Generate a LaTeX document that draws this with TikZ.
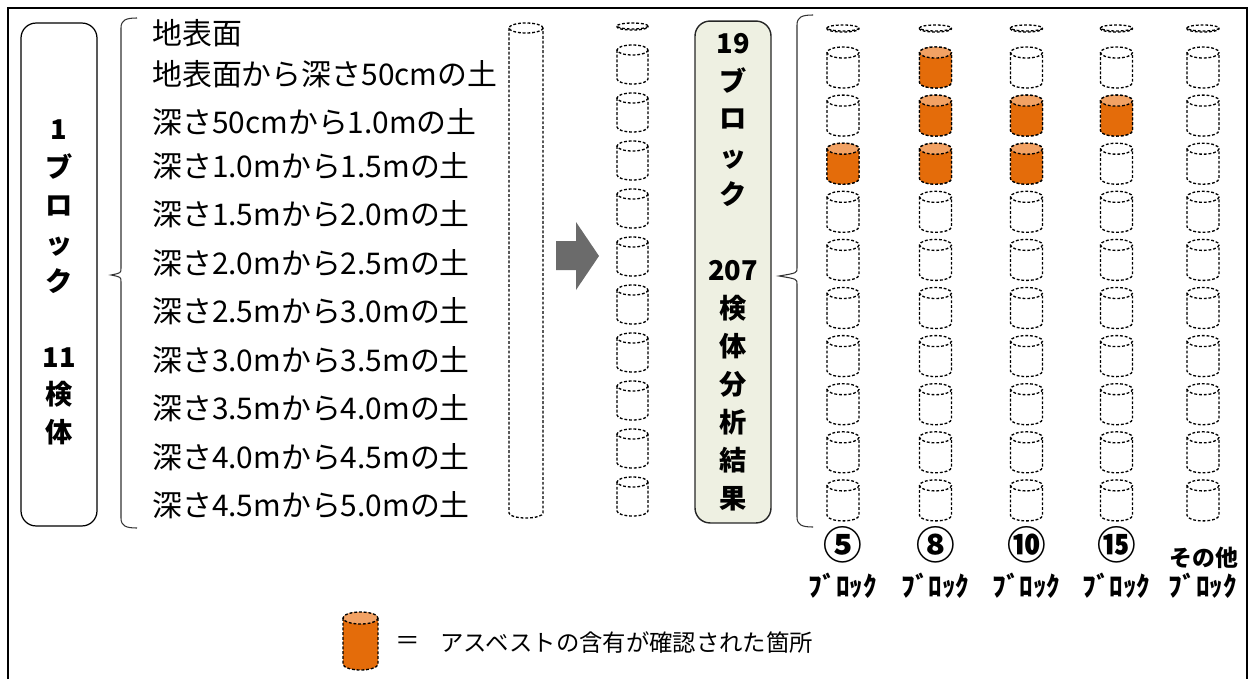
\documentclass[tikz,border=0pt]{standalone}
\usepackage{fontspec}
\setmainfont{Noto Sans CJK JP}
\usepackage{tikz}
\usetikzlibrary{positioning}

\definecolor{arancio}{HTML}{E46C0A}
\definecolor{arancioChiaro}{HTML}{F2A264}
\definecolor{verdino}{HTML}{EEF0E2}

\begin{document}
\begin{tikzpicture}[x=0.02cm, y=-0.02cm, >=latex] % unita' in pixel, y verso il basso
    % Stili
    \tikzset{
        tratteggio/.style={draw=black, line width=0.75pt, dash pattern=on 1.6pt off 1.1pt},
        scatola/.style={draw=black, line width=0.7pt, rounded corners=0.3cm, fill=white,
            minimum width=1.52cm, minimum height=10.06cm, inner sep=0pt},
        risultato/.style={draw=black!85, line width=0.8pt, rounded corners=0.3cm, fill=verdino,
            minimum width=1.52cm, minimum height=10.04cm, inner sep=0pt, align=center,
            font=\bfseries\fontsize{15.5}{21.6}\selectfont},
        verticale/.style={align=center, inner sep=0pt, font=\bfseries\fontsize{15.5}{21.6}\selectfont},
        voce/.style={anchor=west, inner sep=0pt, font=\fontsize{17}{20}\selectfont},
        numero/.style={inner sep=0pt, font=\bfseries\fontsize{22}{24}\selectfont},
        etichetta/.style={inner sep=0pt, font=\bfseries\fontsize{15.5}{17}\selectfont},
        graffa/.style={draw=black!80, line width=0.6pt},
        % cilindro: #1 altezza, #2 semiasse x, #3 semiasse y, #4 corpo, #5 coperchio
        pics/cilindro/.style n args={5}{code={
            \fill[#4] (-#2,#3) -- (-#2,{#1-#3})
                arc[start angle=180, end angle=0, x radius=#2, y radius=#3]
                -- (#2,#3) arc[start angle=0, end angle=-180, x radius=#2, y radius=#3] -- cycle;
            \draw[tratteggio, fill=#5] (0,#3) ellipse[x radius=#2, y radius=#3];
            \draw[tratteggio] (-#2,#3) -- (-#2,{#1-#3})
                arc[start angle=180, end angle=0, x radius=#2, y radius=#3] -- (#2,#3);
        }}
    }

    \useasboundingbox (0,0) rectangle (1253,679);

    % Cornice esterna (aperta in basso)
    \draw[line width=1.2pt] (8,679) -- (8,8) -- (1247,8) -- (1247,679);

    % --- Blocco singolo ---
    \node[scatola] (blocco) at (59,274.5) {};
    \node[verticale] (bloccotesto) at (59,282.5) {1\\ブ\\ロ\\ッ\\ク\\[0.76cm]11\\検\\体};

    % Graffa sinistra
    \draw[graffa] (137,18) .. controls (126,18) and (121,20) .. (121,28) -- (121,268)
        .. controls (121,273) .. (111,275) .. controls (121,277) .. (121,282) -- (121,518)
        .. controls (121,526) and (126,528) .. (137,528);

    % Profondita' dei campioni
    \foreach \testo/\y [count=\i] in {
        地表面/33,
        地表面から深さ50cmの土/74,
        深さ50cmから1.0mの土/122,
        深さ1.0mから1.5mの土/166,
        深さ1.5mから2.0mの土/214,
        深さ2.0mから2.5mの土/263,
        深さ2.5mから3.0mの土/311,
        深さ3.0mから3.5mの土/360,
        深さ3.5mから4.0mの土/408,
        深さ4.0mから4.5mの土/457,
        深さ4.5mから5.0mの土/505}
        \node[voce] (voce\i) at (152,\y) {\testo};

    % Carota intera
    \pic at (526,23) {cilindro={495}{17}{5}{white}{white}};

    % Freccia
    \fill[black!58] (556,241) -- (576,241) -- (576,222) -- (599,256) -- (576,290)
        -- (576,270) -- (556,270) -- cycle;

    % Carota suddivisa
    \pic at (632.5,23) {cilindro={7}{15.5}{3}{white}{white}};
    \foreach \r in {1,...,10}
        \pic at (632.5,{45+48*(\r-1)}) {cilindro={39}{15.5}{5}{white}{white}};

    % --- Risultati ---
    \node[risultato] (totale) at (733,272) {19\\ブ\\ロ\\ッ\\ク\\[0.76cm]207\\検\\体\\分\\析\\結\\果};

    % Graffa destra
    \draw[graffa] (813,15) .. controls (802,15) and (797,17) .. (797,25) -- (797,268)
        .. controls (797,273) .. (779,276) .. controls (797,279) .. (797,284) -- (797,517)
        .. controls (797,525) and (802,527) .. (813,527);

    % Colonne dei blocchi
    \foreach \cx in {843,935.5,1026.5,1116.5,1203} {
        \pic at (\cx,25) {cilindro={7}{16}{3}{white}{white}};
        \foreach \r in {1,...,10}
            \pic at (\cx,{47+48.1*(\r-1)}) {cilindro={41}{16}{5.5}{white}{white}};
    }
    % Campioni con amianto (colonna/riga)
    \foreach \cx/\r in {843/3, 935.5/1, 935.5/2, 935.5/3, 1026.5/2, 1026.5/3, 1116.5/2}
        \pic at (\cx,{47+48.1*(\r-1)}) {cilindro={41}{16}{5.5}{arancio}{arancioChiaro}};

    % Etichette dei blocchi
    \foreach \cx/\num [count=\c] in {843/⑤, 935.5/⑧, 1026.5/⑩, 1116.5/⑮}
        \node[numero] (num\c) at (\cx,545) {\num};
    \node[inner sep=0pt, font=\bfseries\fontsize{13}{15}\selectfont] (altri) at (1204,558) {その他};
    \foreach \cx [count=\c] in {843,935.5,1026.5,1116.5,1203}
        \node[etichetta] (nome\c) at (\cx,586) {ﾌﾞﾛｯｸ};

    % Legenda
    \pic at (360.5,612) {cilindro={58}{17.5}{6}{arancio}{arancioChiaro}};
    \node[inner sep=0pt, font=\fontsize{14}{16}\selectfont] (uguale) at (408,643) {＝};
    \node[voce, font=\fontsize{13.3}{16}\selectfont] (legenda) at (440,643)
        {アスベストの含有が確認された箇所};

\end{tikzpicture}
\end{document}
